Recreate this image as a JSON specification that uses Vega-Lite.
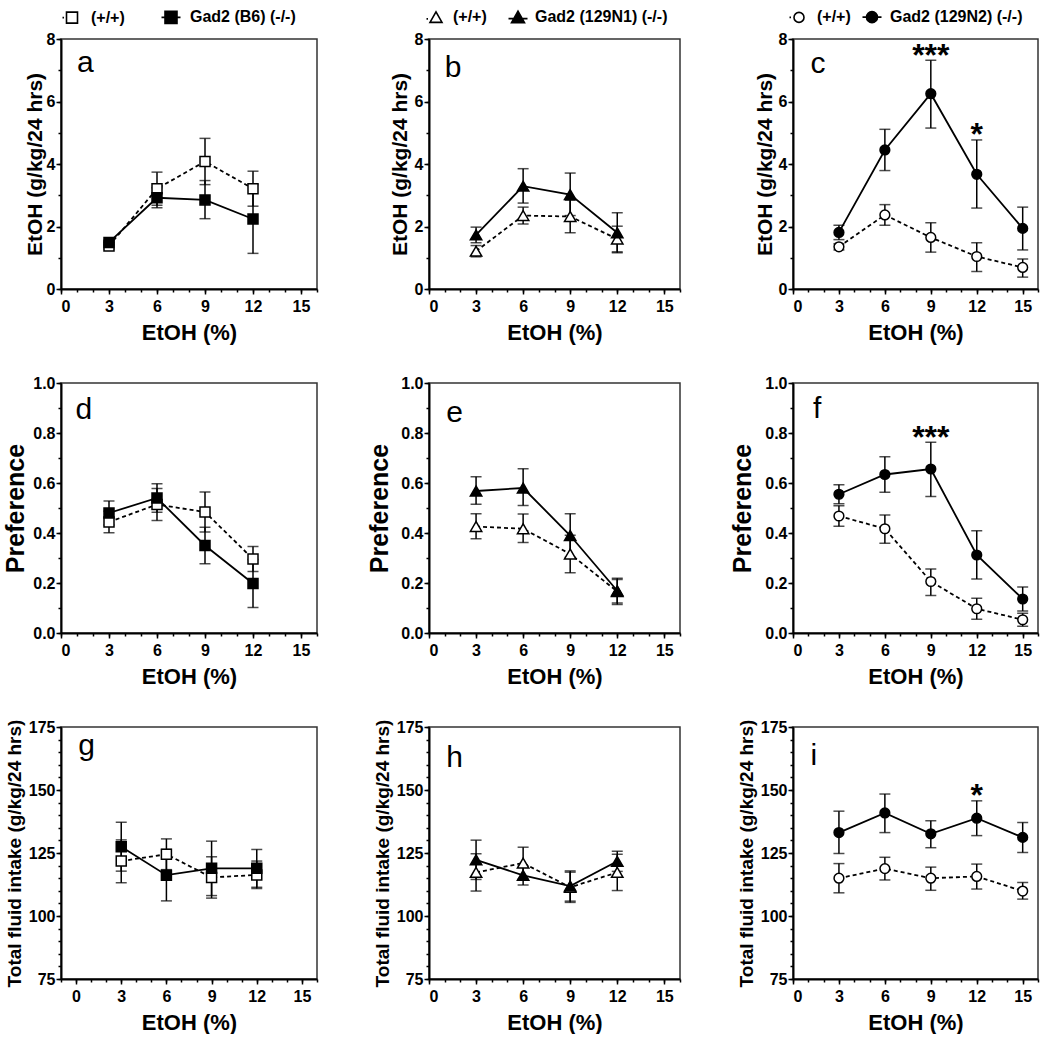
{
  "$schema": "https://vega.github.io/schema/vega-lite/v6.json",
  "background": "white",
  "padding": {"left": 3, "top": 5, "right": 0, "bottom": 0},
  "config": {
    "view": {"stroke": "#333333", "strokeWidth": 1.5},
    "font": "Liberation Sans",
    "axis": {"labelFont": "Liberation Sans", "labelFontSize": 16, "labelFontWeight": "bold", "labelColor": "black", "titleFont": "Liberation Sans", "titleFontWeight": "bold", "titleColor": "black", "domainColor": "black", "domainWidth": 2, "tickColor": "black", "tickWidth": 1.5, "tickSize": 5, "grid": false, "labelPadding": 2}
  },
  "datasets": {
    "d": [
      {"panel": "a", "conc": 3, "genotype": "(+/+)", "mean": 1.38, "lo": 1.28, "hi": 1.48},
      {"panel": "a", "conc": 6, "genotype": "(+/+)", "mean": 3.21, "lo": 2.68, "hi": 3.74},
      {"panel": "a", "conc": 9, "genotype": "(+/+)", "mean": 4.08, "lo": 3.34, "hi": 4.82},
      {"panel": "a", "conc": 12, "genotype": "(+/+)", "mean": 3.21, "lo": 2.65, "hi": 3.77},
      {"panel": "a", "conc": 3, "genotype": "Gad2 (B6) (-/-)", "mean": 1.49, "lo": 1.41, "hi": 1.57},
      {"panel": "a", "conc": 6, "genotype": "Gad2 (B6) (-/-)", "mean": 2.92, "lo": 2.6, "hi": 3.24},
      {"panel": "a", "conc": 9, "genotype": "Gad2 (B6) (-/-)", "mean": 2.85, "lo": 2.25, "hi": 3.47},
      {"panel": "a", "conc": 12, "genotype": "Gad2 (B6) (-/-)", "mean": 2.24, "lo": 1.14, "hi": 3.34},
      {"panel": "b", "conc": 3, "genotype": "(+/+)", "mean": 1.21, "lo": 1.03, "hi": 1.39},
      {"panel": "b", "conc": 6, "genotype": "(+/+)", "mean": 2.35, "lo": 2.08, "hi": 2.62},
      {"panel": "b", "conc": 9, "genotype": "(+/+)", "mean": 2.32, "lo": 1.8, "hi": 2.84},
      {"panel": "b", "conc": 12, "genotype": "(+/+)", "mean": 1.6, "lo": 1.19, "hi": 2.01},
      {"panel": "b", "conc": 3, "genotype": "Gad2 (129N1) (-/-)", "mean": 1.73, "lo": 1.48, "hi": 1.98},
      {"panel": "b", "conc": 6, "genotype": "Gad2 (129N1) (-/-)", "mean": 3.29, "lo": 2.75, "hi": 3.85},
      {"panel": "b", "conc": 9, "genotype": "Gad2 (129N1) (-/-)", "mean": 3.02, "lo": 2.35, "hi": 3.71},
      {"panel": "b", "conc": 12, "genotype": "Gad2 (129N1) (-/-)", "mean": 1.8, "lo": 1.16, "hi": 2.44},
      {"panel": "c", "conc": 3, "genotype": "(+/+)", "mean": 1.35, "lo": 1.25, "hi": 1.45},
      {"panel": "c", "conc": 6, "genotype": "(+/+)", "mean": 2.37, "lo": 2.04, "hi": 2.7},
      {"panel": "c", "conc": 9, "genotype": "(+/+)", "mean": 1.65, "lo": 1.18, "hi": 2.12},
      {"panel": "c", "conc": 12, "genotype": "(+/+)", "mean": 1.04, "lo": 0.56, "hi": 1.48},
      {"panel": "c", "conc": 15, "genotype": "(+/+)", "mean": 0.69, "lo": 0.38, "hi": 0.96},
      {"panel": "c", "conc": 3, "genotype": "Gad2 (129N2) (-/-)", "mean": 1.81, "lo": 1.58, "hi": 2.04},
      {"panel": "c", "conc": 6, "genotype": "Gad2 (129N2) (-/-)", "mean": 4.45, "lo": 3.79, "hi": 5.11},
      {"panel": "c", "conc": 9, "genotype": "Gad2 (129N2) (-/-)", "mean": 6.25, "lo": 5.15, "hi": 7.32, "sig": "***"},
      {"panel": "c", "conc": 12, "genotype": "Gad2 (129N2) (-/-)", "mean": 3.67, "lo": 2.59, "hi": 4.77, "sig": "*"},
      {"panel": "c", "conc": 15, "genotype": "Gad2 (129N2) (-/-)", "mean": 1.94, "lo": 1.25, "hi": 2.62},
      {"panel": "d", "conc": 3, "genotype": "(+/+)", "mean": 0.444, "lo": 0.401, "hi": 0.487},
      {"panel": "d", "conc": 6, "genotype": "(+/+)", "mean": 0.514, "lo": 0.45, "hi": 0.578},
      {"panel": "d", "conc": 9, "genotype": "(+/+)", "mean": 0.484, "lo": 0.404, "hi": 0.564},
      {"panel": "d", "conc": 12, "genotype": "(+/+)", "mean": 0.296, "lo": 0.246, "hi": 0.346},
      {"panel": "d", "conc": 3, "genotype": "Gad2 (B6) (-/-)", "mean": 0.48, "lo": 0.432, "hi": 0.528},
      {"panel": "d", "conc": 6, "genotype": "Gad2 (B6) (-/-)", "mean": 0.54, "lo": 0.483, "hi": 0.597},
      {"panel": "d", "conc": 9, "genotype": "Gad2 (B6) (-/-)", "mean": 0.35, "lo": 0.277, "hi": 0.423},
      {"panel": "d", "conc": 12, "genotype": "Gad2 (B6) (-/-)", "mean": 0.198, "lo": 0.102, "hi": 0.294},
      {"panel": "e", "conc": 3, "genotype": "(+/+)", "mean": 0.426, "lo": 0.377, "hi": 0.477},
      {"panel": "e", "conc": 6, "genotype": "(+/+)", "mean": 0.417, "lo": 0.362, "hi": 0.476},
      {"panel": "e", "conc": 9, "genotype": "(+/+)", "mean": 0.316, "lo": 0.241, "hi": 0.391},
      {"panel": "e", "conc": 12, "genotype": "(+/+)", "mean": 0.166, "lo": 0.114, "hi": 0.214},
      {"panel": "e", "conc": 3, "genotype": "Gad2 (129N1) (-/-)", "mean": 0.568, "lo": 0.515, "hi": 0.625},
      {"panel": "e", "conc": 6, "genotype": "Gad2 (129N1) (-/-)", "mean": 0.58, "lo": 0.51, "hi": 0.657},
      {"panel": "e", "conc": 9, "genotype": "Gad2 (129N1) (-/-)", "mean": 0.39, "lo": 0.303, "hi": 0.477},
      {"panel": "e", "conc": 12, "genotype": "Gad2 (129N1) (-/-)", "mean": 0.169, "lo": 0.12, "hi": 0.219},
      {"panel": "f", "conc": 3, "genotype": "(+/+)", "mean": 0.468, "lo": 0.427, "hi": 0.509},
      {"panel": "f", "conc": 6, "genotype": "(+/+)", "mean": 0.417, "lo": 0.359, "hi": 0.472},
      {"panel": "f", "conc": 9, "genotype": "(+/+)", "mean": 0.206, "lo": 0.15, "hi": 0.256},
      {"panel": "f", "conc": 12, "genotype": "(+/+)", "mean": 0.097, "lo": 0.055, "hi": 0.139},
      {"panel": "f", "conc": 15, "genotype": "(+/+)", "mean": 0.053, "lo": 0.027, "hi": 0.079},
      {"panel": "f", "conc": 3, "genotype": "Gad2 (129N2) (-/-)", "mean": 0.555, "lo": 0.517, "hi": 0.593},
      {"panel": "f", "conc": 6, "genotype": "Gad2 (129N2) (-/-)", "mean": 0.634, "lo": 0.563, "hi": 0.705},
      {"panel": "f", "conc": 9, "genotype": "Gad2 (129N2) (-/-)", "mean": 0.656, "lo": 0.546, "hi": 0.763, "sig": "***"},
      {"panel": "f", "conc": 12, "genotype": "Gad2 (129N2) (-/-)", "mean": 0.312, "lo": 0.216, "hi": 0.409},
      {"panel": "f", "conc": 15, "genotype": "Gad2 (129N2) (-/-)", "mean": 0.136, "lo": 0.088, "hi": 0.184},
      {"panel": "g", "conc": 3, "genotype": "(+/+)", "mean": 121.8, "lo": 113.2, "hi": 130.2},
      {"panel": "g", "conc": 6, "genotype": "(+/+)", "mean": 124.5, "lo": 118.4, "hi": 130.6},
      {"panel": "g", "conc": 9, "genotype": "(+/+)", "mean": 115.3, "lo": 107.1, "hi": 123.5},
      {"panel": "g", "conc": 12, "genotype": "(+/+)", "mean": 116.3, "lo": 110.9, "hi": 121.8},
      {"panel": "g", "conc": 3, "genotype": "Gad2 (B6) (-/-)", "mean": 127.5, "lo": 117.8, "hi": 137.2},
      {"panel": "g", "conc": 6, "genotype": "Gad2 (B6) (-/-)", "mean": 116.2, "lo": 106.0, "hi": 126.4},
      {"panel": "g", "conc": 9, "genotype": "Gad2 (B6) (-/-)", "mean": 118.9, "lo": 108.1, "hi": 129.7},
      {"panel": "g", "conc": 12, "genotype": "Gad2 (B6) (-/-)", "mean": 118.9, "lo": 111.4, "hi": 126.4},
      {"panel": "h", "conc": 3, "genotype": "(+/+)", "mean": 117.3, "lo": 109.9, "hi": 124.7},
      {"panel": "h", "conc": 6, "genotype": "(+/+)", "mean": 121.0, "lo": 114.7, "hi": 127.3},
      {"panel": "h", "conc": 9, "genotype": "(+/+)", "mean": 111.4, "lo": 105.4, "hi": 117.4},
      {"panel": "h", "conc": 12, "genotype": "(+/+)", "mean": 117.3, "lo": 110.1, "hi": 124.5},
      {"panel": "h", "conc": 3, "genotype": "Gad2 (129N1) (-/-)", "mean": 122.3, "lo": 114.5, "hi": 130.1},
      {"panel": "h", "conc": 6, "genotype": "Gad2 (129N1) (-/-)", "mean": 116.1, "lo": 112.3, "hi": 119.9},
      {"panel": "h", "conc": 9, "genotype": "Gad2 (129N1) (-/-)", "mean": 111.9, "lo": 105.9, "hi": 117.9},
      {"panel": "h", "conc": 12, "genotype": "Gad2 (129N1) (-/-)", "mean": 121.7, "lo": 117.7, "hi": 125.7},
      {"panel": "i", "conc": 3, "genotype": "(+/+)", "mean": 115.0, "lo": 109.2, "hi": 120.8},
      {"panel": "i", "conc": 6, "genotype": "(+/+)", "mean": 118.8, "lo": 114.3, "hi": 123.3},
      {"panel": "i", "conc": 9, "genotype": "(+/+)", "mean": 115.0, "lo": 110.2, "hi": 119.4},
      {"panel": "i", "conc": 12, "genotype": "(+/+)", "mean": 115.7, "lo": 110.7, "hi": 120.6},
      {"panel": "i", "conc": 15, "genotype": "(+/+)", "mean": 109.9, "lo": 106.7, "hi": 113.3},
      {"panel": "i", "conc": 3, "genotype": "Gad2 (129N2) (-/-)", "mean": 133.1, "lo": 124.8, "hi": 141.6},
      {"panel": "i", "conc": 6, "genotype": "Gad2 (129N2) (-/-)", "mean": 140.9, "lo": 133.1, "hi": 148.4},
      {"panel": "i", "conc": 9, "genotype": "Gad2 (129N2) (-/-)", "mean": 132.6, "lo": 127.1, "hi": 137.8},
      {"panel": "i", "conc": 12, "genotype": "Gad2 (129N2) (-/-)", "mean": 138.8, "lo": 131.9, "hi": 145.7, "sig": "*"},
      {"panel": "i", "conc": 15, "genotype": "Gad2 (129N2) (-/-)", "mean": 131.2, "lo": 125.2, "hi": 137.1}
    ],
    "letters": [
      {"panel": "a", "letter": "a"}, {"panel": "b", "letter": "b"}, {"panel": "c", "letter": "c"},
      {"panel": "d", "letter": "d"}, {"panel": "e", "letter": "e"}, {"panel": "f", "letter": "f"},
      {"panel": "g", "letter": "g"}, {"panel": "h", "letter": "h"}, {"panel": "i", "letter": "i"}
    ]
  },
  "columns": 3,
  "align": "each",
  "spacing": {"row": 30, "column": 48},
  "resolve": {"scale": {"fill": "independent", "shape": "independent"}, "legend": {"fill": "independent", "shape": "independent"}},
  "concat": [
    {
      "width": 256, "height": 250, "data": {"name": "d"},
      "layer": [
        {"transform": [{"filter": "datum.panel == 'a'"}],
         "mark": {"type": "errorbar", "ticks": true, "size": 11, "thickness": 1.5, "color": "black"},
         "encoding": {"x": {"field": "conc", "type": "quantitative", "scale": {"domain": [0, 16], "nice": false, "zero": false}, "axis": null},
                      "y": {"field": "lo", "type": "quantitative", "scale": {"domain": [0, 8], "nice": false, "zero": false}, "axis": null},
                      "y2": {"field": "hi"}}},
        {"transform": [{"filter": "datum.panel == 'a' && datum.genotype == '(+/+)'"}],
         "mark": {"type": "line", "color": "black", "strokeWidth": 1.8, "strokeDash": [4, 3]},
         "encoding": {"x": {"field": "conc", "type": "quantitative", "scale": {"domain": [0, 16], "nice": false, "zero": false}, "axis": {"orient": "bottom", "values": [0, 3, 6, 9, 12, 15], "title": "EtOH (%)", "titleFontSize": 22, "titlePadding": 8, "labelPadding": 4}},
                      "y": {"field": "mean", "type": "quantitative", "scale": {"domain": [0, 8], "nice": false, "zero": false}, "axis": {"orient": "left", "values": [0, 2, 4, 6, 8], "title": "EtOH (g/kg/24 hrs)", "titleFontSize": 21, "titlePadding": 1, "labelPadding": 1}}}},
        {"transform": [{"filter": "datum.panel == 'a' && datum.genotype != '(+/+)'"}],
         "mark": {"type": "line", "color": "black", "strokeWidth": 1.8},
         "encoding": {"x": {"field": "conc", "type": "quantitative", "scale": {"domain": [0, 16], "nice": false, "zero": false}, "axis": null},
                      "y": {"field": "mean", "type": "quantitative", "scale": {"domain": [0, 8], "nice": false, "zero": false}, "axis": null}}},
        {"transform": [{"filter": "datum.panel == 'a'"}],
         "mark": {"type": "point", "shape": "square", "size": 100, "filled": true, "stroke": "black", "strokeWidth": 1.5, "opacity": 1},
         "encoding": {"x": {"field": "conc", "type": "quantitative", "scale": {"domain": [0, 16], "nice": false, "zero": false}, "axis": {"orient": "bottom", "values": [0,1,2,3,4,5,6,7,8,9,10,11,12,13,14,15,16], "labels": false, "domain": false, "title": null, "tickSize": 3}},
                      "y": {"field": "mean", "type": "quantitative", "scale": {"domain": [0, 8], "nice": false, "zero": false}, "axis": {"orient": "left", "values": [0,1,2,3,4,5,6,7,8], "labels": false, "domain": false, "title": null, "tickSize": 3}},
                      "fill": {"field": "genotype", "type": "nominal", "scale": {"domain": ["(+/+)", "Gad2 (B6) (-/-)"], "range": ["white", "black"]},
                               "legend": {"orient": "none", "legendX": 0, "legendY": -33, "direction": "horizontal", "title": null, "padding": 0, "labelFont": "Liberation Sans", "labelFontSize": 16, "labelFontWeight": "bold", "labelColor": "black", "labelOffset": 8, "columnPadding": 33, "symbolSize": 400, "symbolStrokeColor": "black", "symbolStrokeWidth": 1.6}}}},
        {"transform": [{"filter": "false"}],
         "mark": {"type": "point", "filled": true, "stroke": "black", "strokeWidth": 1.6, "opacity": 1},
         "encoding": {"x": {"field": "conc", "type": "quantitative", "scale": {"domain": [0, 16], "nice": false, "zero": false}, "axis": null},
                      "y": {"field": "mean", "type": "quantitative", "scale": {"domain": [0, 8], "nice": false, "zero": false}, "axis": null},
                      "shape": {"field": "genotype", "type": "nominal", "scale": {"domain": ["(+/+)", "Gad2 (B6) (-/-)"], "range": ["M-0.95,0H-0.8M-0.55,-0.55H0.55V0.55H-0.55Z", "M-0.95,0H0.95M-0.6,-0.6H0.6V0.6H-0.6Z"]},
                                "legend": {"orient": "none", "legendX": 0, "legendY": -33, "direction": "horizontal", "title": null, "padding": 0, "labelFont": "Liberation Sans", "labelFontSize": 16, "labelFontWeight": "bold", "labelColor": "black", "labelOffset": 8, "columnPadding": 33, "symbolSize": 400, "symbolStrokeColor": "black", "symbolStrokeWidth": 1.6}},
                      "fill": {"field": "genotype", "type": "nominal", "scale": {"domain": ["(+/+)", "Gad2 (B6) (-/-)"], "range": ["white", "black"]},
                               "legend": {"orient": "none", "legendX": 0, "legendY": -33, "direction": "horizontal", "title": null, "padding": 0, "labelFont": "Liberation Sans", "labelFontSize": 16, "labelFontWeight": "bold", "labelColor": "black", "labelOffset": 8, "columnPadding": 33, "symbolSize": 400, "symbolStrokeColor": "black", "symbolStrokeWidth": 1.6}}}},
        {"data": {"name": "letters"}, "transform": [{"filter": "datum.panel == 'a'"}],
         "mark": {"type": "text", "font": "Liberation Sans", "fontSize": 30, "align": "left", "baseline": "alphabetic", "color": "black"},
         "encoding": {"x": {"datum": 1.0, "type": "quantitative", "scale": {"domain": [0, 16], "nice": false, "zero": false}, "axis": null},
                      "y": {"datum": 6.95, "type": "quantitative", "scale": {"domain": [0, 8], "nice": false, "zero": false}, "axis": null},
                      "text": {"field": "letter"}}}
      ],
      "resolve": {"axis": {"x": "independent", "y": "independent"}}
    },
    {
      "width": 251, "height": 250, "data": {"name": "d"},
      "layer": [
        {"transform": [{"filter": "datum.panel == 'b'"}],
         "mark": {"type": "errorbar", "ticks": true, "size": 11, "thickness": 1.5, "color": "black"},
         "encoding": {"x": {"field": "conc", "type": "quantitative", "scale": {"domain": [0, 16], "nice": false, "zero": false}, "axis": null},
                      "y": {"field": "lo", "type": "quantitative", "scale": {"domain": [0, 8], "nice": false, "zero": false}, "axis": null},
                      "y2": {"field": "hi"}}},
        {"transform": [{"filter": "datum.panel == 'b' && datum.genotype == '(+/+)'"}],
         "mark": {"type": "line", "color": "black", "strokeWidth": 1.8, "strokeDash": [4, 3]},
         "encoding": {"x": {"field": "conc", "type": "quantitative", "scale": {"domain": [0, 16], "nice": false, "zero": false}, "axis": {"orient": "bottom", "values": [0, 3, 6, 9, 12, 15], "title": "EtOH (%)", "titleFontSize": 22, "titlePadding": 8, "labelPadding": 4}},
                      "y": {"field": "mean", "type": "quantitative", "scale": {"domain": [0, 8], "nice": false, "zero": false}, "axis": {"orient": "left", "values": [0, 2, 4, 6, 8], "title": "EtOH (g/kg/24 hrs)", "titleFontSize": 21, "titlePadding": 4, "labelPadding": 1}}}},
        {"transform": [{"filter": "datum.panel == 'b' && datum.genotype != '(+/+)'"}],
         "mark": {"type": "line", "color": "black", "strokeWidth": 1.8},
         "encoding": {"x": {"field": "conc", "type": "quantitative", "scale": {"domain": [0, 16], "nice": false, "zero": false}, "axis": null},
                      "y": {"field": "mean", "type": "quantitative", "scale": {"domain": [0, 8], "nice": false, "zero": false}, "axis": null}}},
        {"transform": [{"filter": "datum.panel == 'b'"}],
         "mark": {"type": "point", "shape": "triangle-up", "size": 130, "filled": true, "stroke": "black", "strokeWidth": 1.5, "opacity": 1},
         "encoding": {"x": {"field": "conc", "type": "quantitative", "scale": {"domain": [0, 16], "nice": false, "zero": false}, "axis": {"orient": "bottom", "values": [0,1,2,3,4,5,6,7,8,9,10,11,12,13,14,15,16], "labels": false, "domain": false, "title": null, "tickSize": 3}},
                      "y": {"field": "mean", "type": "quantitative", "scale": {"domain": [0, 8], "nice": false, "zero": false}, "axis": {"orient": "left", "values": [0,1,2,3,4,5,6,7,8], "labels": false, "domain": false, "title": null, "tickSize": 3}},
                      "fill": {"field": "genotype", "type": "nominal", "scale": {"domain": ["(+/+)", "Gad2 (129N1) (-/-)"], "range": ["white", "black"]},
                               "legend": {"orient": "none", "legendX": -4, "legendY": -33, "direction": "horizontal", "title": null, "padding": 0, "labelFont": "Liberation Sans", "labelFontSize": 16, "labelFontWeight": "bold", "labelColor": "black", "labelOffset": 6, "columnPadding": 18, "symbolSize": 400, "symbolStrokeColor": "black", "symbolStrokeWidth": 1.6}}}},
        {"transform": [{"filter": "false"}],
         "mark": {"type": "point", "filled": true, "stroke": "black", "strokeWidth": 1.6, "opacity": 1},
         "encoding": {"x": {"field": "conc", "type": "quantitative", "scale": {"domain": [0, 16], "nice": false, "zero": false}, "axis": null},
                      "y": {"field": "mean", "type": "quantitative", "scale": {"domain": [0, 8], "nice": false, "zero": false}, "axis": null},
                      "shape": {"field": "genotype", "type": "nominal", "scale": {"domain": ["(+/+)", "Gad2 (129N1) (-/-)"], "range": ["M-0.95,0.15H-0.8M0,-0.55L0.6,0.5H-0.6Z", "M-0.95,0.15H0.95M0,-0.6L0.65,0.55H-0.65Z"]},
                                "legend": {"orient": "none", "legendX": -4, "legendY": -33, "direction": "horizontal", "title": null, "padding": 0, "labelFont": "Liberation Sans", "labelFontSize": 16, "labelFontWeight": "bold", "labelColor": "black", "labelOffset": 6, "columnPadding": 18, "symbolSize": 400, "symbolStrokeColor": "black", "symbolStrokeWidth": 1.6}},
                      "fill": {"field": "genotype", "type": "nominal", "scale": {"domain": ["(+/+)", "Gad2 (129N1) (-/-)"], "range": ["white", "black"]},
                               "legend": {"orient": "none", "legendX": -4, "legendY": -33, "direction": "horizontal", "title": null, "padding": 0, "labelFont": "Liberation Sans", "labelFontSize": 16, "labelFontWeight": "bold", "labelColor": "black", "labelOffset": 6, "columnPadding": 18, "symbolSize": 400, "symbolStrokeColor": "black", "symbolStrokeWidth": 1.6}}}},
        {"data": {"name": "letters"}, "transform": [{"filter": "datum.panel == 'b'"}],
         "mark": {"type": "text", "font": "Liberation Sans", "fontSize": 30, "align": "left", "baseline": "alphabetic", "color": "black"},
         "encoding": {"x": {"datum": 1.0, "type": "quantitative", "scale": {"domain": [0, 16], "nice": false, "zero": false}, "axis": null},
                      "y": {"datum": 6.8, "type": "quantitative", "scale": {"domain": [0, 8], "nice": false, "zero": false}, "axis": null},
                      "text": {"field": "letter"}}}
      ],
      "resolve": {"axis": {"x": "independent", "y": "independent"}}
    },
    {
      "width": 245, "height": 250, "data": {"name": "d"},
      "layer": [
        {"transform": [{"filter": "datum.panel == 'c'"}],
         "mark": {"type": "errorbar", "ticks": true, "size": 11, "thickness": 1.5, "color": "black"},
         "encoding": {"x": {"field": "conc", "type": "quantitative", "scale": {"domain": [0, 16], "nice": false, "zero": false}, "axis": null},
                      "y": {"field": "lo", "type": "quantitative", "scale": {"domain": [0, 8], "nice": false, "zero": false}, "axis": null},
                      "y2": {"field": "hi"}}},
        {"transform": [{"filter": "datum.panel == 'c' && datum.genotype == '(+/+)'"}],
         "mark": {"type": "line", "color": "black", "strokeWidth": 1.8, "strokeDash": [4, 3]},
         "encoding": {"x": {"field": "conc", "type": "quantitative", "scale": {"domain": [0, 16], "nice": false, "zero": false}, "axis": {"orient": "bottom", "values": [0, 3, 6, 9, 12, 15], "title": "EtOH (%)", "titleFontSize": 22, "titlePadding": 8, "labelPadding": 4}},
                      "y": {"field": "mean", "type": "quantitative", "scale": {"domain": [0, 8], "nice": false, "zero": false}, "axis": {"orient": "left", "values": [0, 2, 4, 6, 8], "title": "EtOH (g/kg/24 hrs)", "titleFontSize": 21, "titlePadding": 3, "labelPadding": 1}}}},
        {"transform": [{"filter": "datum.panel == 'c' && datum.genotype != '(+/+)'"}],
         "mark": {"type": "line", "color": "black", "strokeWidth": 1.8},
         "encoding": {"x": {"field": "conc", "type": "quantitative", "scale": {"domain": [0, 16], "nice": false, "zero": false}, "axis": null},
                      "y": {"field": "mean", "type": "quantitative", "scale": {"domain": [0, 8], "nice": false, "zero": false}, "axis": null}}},
        {"transform": [{"filter": "datum.panel == 'c'"}],
         "mark": {"type": "point", "shape": "circle", "size": 95, "filled": true, "stroke": "black", "strokeWidth": 1.5, "opacity": 1},
         "encoding": {"x": {"field": "conc", "type": "quantitative", "scale": {"domain": [0, 16], "nice": false, "zero": false}, "axis": {"orient": "bottom", "values": [0,1,2,3,4,5,6,7,8,9,10,11,12,13,14,15,16], "labels": false, "domain": false, "title": null, "tickSize": 3}},
                      "y": {"field": "mean", "type": "quantitative", "scale": {"domain": [0, 8], "nice": false, "zero": false}, "axis": {"orient": "left", "values": [0,1,2,3,4,5,6,7,8], "labels": false, "domain": false, "title": null, "tickSize": 3}},
                      "fill": {"field": "genotype", "type": "nominal", "scale": {"domain": ["(+/+)", "Gad2 (129N2) (-/-)"], "range": ["white", "black"]},
                               "legend": {"orient": "none", "legendX": -5, "legendY": -33, "direction": "horizontal", "title": null, "padding": 0, "labelFont": "Liberation Sans", "labelFontSize": 16, "labelFontWeight": "bold", "labelColor": "black", "labelOffset": 7, "columnPadding": 8, "symbolSize": 400, "symbolStrokeColor": "black", "symbolStrokeWidth": 1.6}}}},
        {"transform": [{"filter": "false"}],
         "mark": {"type": "point", "filled": true, "stroke": "black", "strokeWidth": 1.6, "opacity": 1},
         "encoding": {"x": {"field": "conc", "type": "quantitative", "scale": {"domain": [0, 16], "nice": false, "zero": false}, "axis": null},
                      "y": {"field": "mean", "type": "quantitative", "scale": {"domain": [0, 8], "nice": false, "zero": false}, "axis": null},
                      "shape": {"field": "genotype", "type": "nominal", "scale": {"domain": ["(+/+)", "Gad2 (129N2) (-/-)"], "range": ["M-0.95,0H-0.8M-0.5,0A0.5,0.5,0,1,0,0.5,0A0.5,0.5,0,1,0,-0.5,0Z", "M-0.95,0H0.95M-0.55,0A0.55,0.55,0,1,0,0.55,0A0.55,0.55,0,1,0,-0.55,0Z"]},
                                "legend": {"orient": "none", "legendX": -5, "legendY": -33, "direction": "horizontal", "title": null, "padding": 0, "labelFont": "Liberation Sans", "labelFontSize": 16, "labelFontWeight": "bold", "labelColor": "black", "labelOffset": 7, "columnPadding": 8, "symbolSize": 400, "symbolStrokeColor": "black", "symbolStrokeWidth": 1.6}},
                      "fill": {"field": "genotype", "type": "nominal", "scale": {"domain": ["(+/+)", "Gad2 (129N2) (-/-)"], "range": ["white", "black"]},
                               "legend": {"orient": "none", "legendX": -5, "legendY": -33, "direction": "horizontal", "title": null, "padding": 0, "labelFont": "Liberation Sans", "labelFontSize": 16, "labelFontWeight": "bold", "labelColor": "black", "labelOffset": 7, "columnPadding": 8, "symbolSize": 400, "symbolStrokeColor": "black", "symbolStrokeWidth": 1.6}}}},
        {"transform": [{"filter": "datum.panel == 'c' && datum.sig != null"}],
         "mark": {"type": "text", "font": "Liberation Sans", "fontSize": 32, "fontWeight": "bold", "baseline": "alphabetic", "dy": 5.5, "color": "black"},
         "encoding": {"x": {"field": "conc", "type": "quantitative", "scale": {"domain": [0, 16], "nice": false, "zero": false}, "axis": null},
                      "y": {"field": "hi", "type": "quantitative", "scale": {"domain": [0, 8], "nice": false, "zero": false}, "axis": null},
                      "text": {"field": "sig"}}},
        {"data": {"name": "letters"}, "transform": [{"filter": "datum.panel == 'c'"}],
         "mark": {"type": "text", "font": "Liberation Sans", "fontSize": 30, "align": "left", "baseline": "alphabetic", "color": "black"},
         "encoding": {"x": {"datum": 1.15, "type": "quantitative", "scale": {"domain": [0, 16], "nice": false, "zero": false}, "axis": null},
                      "y": {"datum": 6.9, "type": "quantitative", "scale": {"domain": [0, 8], "nice": false, "zero": false}, "axis": null},
                      "text": {"field": "letter"}}}
      ],
      "resolve": {"axis": {"x": "independent", "y": "independent"}}
    },
    {
      "width": 256, "height": 250, "data": {"name": "d"},
      "layer": [
        {"transform": [{"filter": "datum.panel == 'd'"}],
         "mark": {"type": "errorbar", "ticks": true, "size": 11, "thickness": 1.5, "color": "black"},
         "encoding": {"x": {"field": "conc", "type": "quantitative", "scale": {"domain": [0, 16], "nice": false, "zero": false}, "axis": null},
                      "y": {"field": "lo", "type": "quantitative", "scale": {"domain": [0, 1], "nice": false, "zero": false}, "axis": null},
                      "y2": {"field": "hi"}}},
        {"transform": [{"filter": "datum.panel == 'd' && datum.genotype == '(+/+)'"}],
         "mark": {"type": "line", "color": "black", "strokeWidth": 1.8, "strokeDash": [4, 3]},
         "encoding": {"x": {"field": "conc", "type": "quantitative", "scale": {"domain": [0, 16], "nice": false, "zero": false}, "axis": {"orient": "bottom", "values": [0, 3, 6, 9, 12, 15], "title": "EtOH (%)", "titleFontSize": 22, "titlePadding": 8, "labelPadding": 4}},
                      "y": {"field": "mean", "type": "quantitative", "scale": {"domain": [0, 1], "nice": false, "zero": false}, "axis": {"orient": "left", "values": [0, 0.2, 0.4, 0.6, 0.8, 1.0], "format": ".1f", "title": "Preference", "titleFontSize": 25, "titlePadding": 4, "labelPadding": 1}}}},
        {"transform": [{"filter": "datum.panel == 'd' && datum.genotype != '(+/+)'"}],
         "mark": {"type": "line", "color": "black", "strokeWidth": 1.8},
         "encoding": {"x": {"field": "conc", "type": "quantitative", "scale": {"domain": [0, 16], "nice": false, "zero": false}, "axis": null},
                      "y": {"field": "mean", "type": "quantitative", "scale": {"domain": [0, 1], "nice": false, "zero": false}, "axis": null}}},
        {"transform": [{"filter": "datum.panel == 'd'"}],
         "mark": {"type": "point", "shape": "square", "size": 100, "filled": true, "stroke": "black", "strokeWidth": 1.5, "opacity": 1},
         "encoding": {"x": {"field": "conc", "type": "quantitative", "scale": {"domain": [0, 16], "nice": false, "zero": false}, "axis": {"orient": "bottom", "values": [0,1,2,3,4,5,6,7,8,9,10,11,12,13,14,15,16], "labels": false, "domain": false, "title": null, "tickSize": 3}},
                      "y": {"field": "mean", "type": "quantitative", "scale": {"domain": [0, 1], "nice": false, "zero": false}, "axis": {"orient": "left", "values": [0,0.1,0.2,0.3,0.4,0.5,0.6,0.7,0.8,0.9,1.0], "labels": false, "domain": false, "title": null, "tickSize": 3}},
                      "fill": {"field": "genotype", "type": "nominal", "scale": {"domain": ["(+/+)", "Gad2 (B6) (-/-)"], "range": ["white", "black"]}, "legend": null}}},
        {"data": {"name": "letters"}, "transform": [{"filter": "datum.panel == 'd'"}],
         "mark": {"type": "text", "font": "Liberation Sans", "fontSize": 30, "align": "left", "baseline": "alphabetic", "color": "black"},
         "encoding": {"x": {"datum": 0.9, "type": "quantitative", "scale": {"domain": [0, 16], "nice": false, "zero": false}, "axis": null},
                      "y": {"datum": 0.855, "type": "quantitative", "scale": {"domain": [0, 1], "nice": false, "zero": false}, "axis": null},
                      "text": {"field": "letter"}}}
      ],
      "resolve": {"axis": {"x": "independent", "y": "independent"}}
    },
    {
      "width": 251, "height": 250, "data": {"name": "d"},
      "layer": [
        {"transform": [{"filter": "datum.panel == 'e'"}],
         "mark": {"type": "errorbar", "ticks": true, "size": 11, "thickness": 1.5, "color": "black"},
         "encoding": {"x": {"field": "conc", "type": "quantitative", "scale": {"domain": [0, 16], "nice": false, "zero": false}, "axis": null},
                      "y": {"field": "lo", "type": "quantitative", "scale": {"domain": [0, 1], "nice": false, "zero": false}, "axis": null},
                      "y2": {"field": "hi"}}},
        {"transform": [{"filter": "datum.panel == 'e' && datum.genotype == '(+/+)'"}],
         "mark": {"type": "line", "color": "black", "strokeWidth": 1.8, "strokeDash": [4, 3]},
         "encoding": {"x": {"field": "conc", "type": "quantitative", "scale": {"domain": [0, 16], "nice": false, "zero": false}, "axis": {"orient": "bottom", "values": [0, 3, 6, 9, 12, 15], "title": "EtOH (%)", "titleFontSize": 22, "titlePadding": 8, "labelPadding": 4}},
                      "y": {"field": "mean", "type": "quantitative", "scale": {"domain": [0, 1], "nice": false, "zero": false}, "axis": {"orient": "left", "values": [0, 0.2, 0.4, 0.6, 0.8, 1.0], "format": ".1f", "title": "Preference", "titleFontSize": 25, "titlePadding": 8, "labelPadding": 1}}}},
        {"transform": [{"filter": "datum.panel == 'e' && datum.genotype != '(+/+)'"}],
         "mark": {"type": "line", "color": "black", "strokeWidth": 1.8},
         "encoding": {"x": {"field": "conc", "type": "quantitative", "scale": {"domain": [0, 16], "nice": false, "zero": false}, "axis": null},
                      "y": {"field": "mean", "type": "quantitative", "scale": {"domain": [0, 1], "nice": false, "zero": false}, "axis": null}}},
        {"transform": [{"filter": "datum.panel == 'e'"}],
         "mark": {"type": "point", "shape": "triangle-up", "size": 130, "filled": true, "stroke": "black", "strokeWidth": 1.5, "opacity": 1},
         "encoding": {"x": {"field": "conc", "type": "quantitative", "scale": {"domain": [0, 16], "nice": false, "zero": false}, "axis": {"orient": "bottom", "values": [0,1,2,3,4,5,6,7,8,9,10,11,12,13,14,15,16], "labels": false, "domain": false, "title": null, "tickSize": 3}},
                      "y": {"field": "mean", "type": "quantitative", "scale": {"domain": [0, 1], "nice": false, "zero": false}, "axis": {"orient": "left", "values": [0,0.1,0.2,0.3,0.4,0.5,0.6,0.7,0.8,0.9,1.0], "labels": false, "domain": false, "title": null, "tickSize": 3}},
                      "fill": {"field": "genotype", "type": "nominal", "scale": {"domain": ["(+/+)", "Gad2 (129N1) (-/-)"], "range": ["white", "black"]}, "legend": null}}},
        {"data": {"name": "letters"}, "transform": [{"filter": "datum.panel == 'e'"}],
         "mark": {"type": "text", "font": "Liberation Sans", "fontSize": 30, "align": "left", "baseline": "alphabetic", "color": "black"},
         "encoding": {"x": {"datum": 1.1, "type": "quantitative", "scale": {"domain": [0, 16], "nice": false, "zero": false}, "axis": null},
                      "y": {"datum": 0.845, "type": "quantitative", "scale": {"domain": [0, 1], "nice": false, "zero": false}, "axis": null},
                      "text": {"field": "letter"}}}
      ],
      "resolve": {"axis": {"x": "independent", "y": "independent"}}
    },
    {
      "width": 245, "height": 250, "data": {"name": "d"},
      "layer": [
        {"transform": [{"filter": "datum.panel == 'f'"}],
         "mark": {"type": "errorbar", "ticks": true, "size": 11, "thickness": 1.5, "color": "black"},
         "encoding": {"x": {"field": "conc", "type": "quantitative", "scale": {"domain": [0, 16], "nice": false, "zero": false}, "axis": null},
                      "y": {"field": "lo", "type": "quantitative", "scale": {"domain": [0, 1], "nice": false, "zero": false}, "axis": null},
                      "y2": {"field": "hi"}}},
        {"transform": [{"filter": "datum.panel == 'f' && datum.genotype == '(+/+)'"}],
         "mark": {"type": "line", "color": "black", "strokeWidth": 1.8, "strokeDash": [4, 3]},
         "encoding": {"x": {"field": "conc", "type": "quantitative", "scale": {"domain": [0, 16], "nice": false, "zero": false}, "axis": {"orient": "bottom", "values": [0, 3, 6, 9, 12, 15], "title": "EtOH (%)", "titleFontSize": 22, "titlePadding": 8, "labelPadding": 4}},
                      "y": {"field": "mean", "type": "quantitative", "scale": {"domain": [0, 1], "nice": false, "zero": false}, "axis": {"orient": "left", "values": [0, 0.2, 0.4, 0.6, 0.8, 1.0], "format": ".1f", "title": "Preference", "titleFontSize": 25, "titlePadding": 9, "labelPadding": 1}}}},
        {"transform": [{"filter": "datum.panel == 'f' && datum.genotype != '(+/+)'"}],
         "mark": {"type": "line", "color": "black", "strokeWidth": 1.8},
         "encoding": {"x": {"field": "conc", "type": "quantitative", "scale": {"domain": [0, 16], "nice": false, "zero": false}, "axis": null},
                      "y": {"field": "mean", "type": "quantitative", "scale": {"domain": [0, 1], "nice": false, "zero": false}, "axis": null}}},
        {"transform": [{"filter": "datum.panel == 'f'"}],
         "mark": {"type": "point", "shape": "circle", "size": 95, "filled": true, "stroke": "black", "strokeWidth": 1.5, "opacity": 1},
         "encoding": {"x": {"field": "conc", "type": "quantitative", "scale": {"domain": [0, 16], "nice": false, "zero": false}, "axis": {"orient": "bottom", "values": [0,1,2,3,4,5,6,7,8,9,10,11,12,13,14,15,16], "labels": false, "domain": false, "title": null, "tickSize": 3}},
                      "y": {"field": "mean", "type": "quantitative", "scale": {"domain": [0, 1], "nice": false, "zero": false}, "axis": {"orient": "left", "values": [0,0.1,0.2,0.3,0.4,0.5,0.6,0.7,0.8,0.9,1.0], "labels": false, "domain": false, "title": null, "tickSize": 3}},
                      "fill": {"field": "genotype", "type": "nominal", "scale": {"domain": ["(+/+)", "Gad2 (129N2) (-/-)"], "range": ["white", "black"]}, "legend": null}}},
        {"transform": [{"filter": "datum.panel == 'f' && datum.sig != null"}],
         "mark": {"type": "text", "font": "Liberation Sans", "fontSize": 32, "fontWeight": "bold", "baseline": "alphabetic", "dy": 5.5, "color": "black"},
         "encoding": {"x": {"field": "conc", "type": "quantitative", "scale": {"domain": [0, 16], "nice": false, "zero": false}, "axis": null},
                      "y": {"field": "hi", "type": "quantitative", "scale": {"domain": [0, 1], "nice": false, "zero": false}, "axis": null},
                      "text": {"field": "sig"}}},
        {"data": {"name": "letters"}, "transform": [{"filter": "datum.panel == 'f'"}],
         "mark": {"type": "text", "font": "Liberation Sans", "fontSize": 30, "align": "left", "baseline": "alphabetic", "color": "black"},
         "encoding": {"x": {"datum": 1.3, "type": "quantitative", "scale": {"domain": [0, 16], "nice": false, "zero": false}, "axis": null},
                      "y": {"datum": 0.86, "type": "quantitative", "scale": {"domain": [0, 1], "nice": false, "zero": false}, "axis": null},
                      "text": {"field": "letter"}}}
      ],
      "resolve": {"axis": {"x": "independent", "y": "independent"}}
    },
    {
      "width": 256, "height": 252, "data": {"name": "d"},
      "layer": [
        {"transform": [{"filter": "datum.panel == 'g'"}],
         "mark": {"type": "errorbar", "ticks": true, "size": 11, "thickness": 1.5, "color": "black"},
         "encoding": {"x": {"field": "conc", "type": "quantitative", "scale": {"domain": [-1, 16], "nice": false, "zero": false}, "axis": null},
                      "y": {"field": "lo", "type": "quantitative", "scale": {"domain": [75, 175], "nice": false, "zero": false}, "axis": null},
                      "y2": {"field": "hi"}}},
        {"transform": [{"filter": "datum.panel == 'g' && datum.genotype == '(+/+)'"}],
         "mark": {"type": "line", "color": "black", "strokeWidth": 1.8, "strokeDash": [4, 3]},
         "encoding": {"x": {"field": "conc", "type": "quantitative", "scale": {"domain": [-1, 16], "nice": false, "zero": false}, "axis": {"orient": "bottom", "values": [0, 3, 6, 9, 12, 15], "title": "EtOH (%)", "titleFontSize": 22, "titlePadding": 8, "labelPadding": 4}},
                      "y": {"field": "mean", "type": "quantitative", "scale": {"domain": [75, 175], "nice": false, "zero": false}, "axis": {"orient": "left", "values": [75, 100, 125, 150, 175], "title": "Total fluid intake (g/kg/24 hrs)", "titleFontSize": 19, "titlePadding": 4, "labelPadding": 1}}}},
        {"transform": [{"filter": "datum.panel == 'g' && datum.genotype != '(+/+)'"}],
         "mark": {"type": "line", "color": "black", "strokeWidth": 1.8},
         "encoding": {"x": {"field": "conc", "type": "quantitative", "scale": {"domain": [-1, 16], "nice": false, "zero": false}, "axis": null},
                      "y": {"field": "mean", "type": "quantitative", "scale": {"domain": [75, 175], "nice": false, "zero": false}, "axis": null}}},
        {"transform": [{"filter": "datum.panel == 'g'"}],
         "mark": {"type": "point", "shape": "square", "size": 100, "filled": true, "stroke": "black", "strokeWidth": 1.5, "opacity": 1},
         "encoding": {"x": {"field": "conc", "type": "quantitative", "scale": {"domain": [-1, 16], "nice": false, "zero": false}, "axis": {"orient": "bottom", "values": [-1,0,1,2,3,4,5,6,7,8,9,10,11,12,13,14,15,16], "labels": false, "domain": false, "title": null, "tickSize": 3}},
                      "y": {"field": "mean", "type": "quantitative", "scale": {"domain": [75, 175], "nice": false, "zero": false}, "axis": {"orient": "left", "values": [75,80,85,90,95,100,105,110,115,120,125,130,135,140,145,150,155,160,165,170,175], "labels": false, "domain": false, "title": null, "tickSize": 3}},
                      "fill": {"field": "genotype", "type": "nominal", "scale": {"domain": ["(+/+)", "Gad2 (B6) (-/-)"], "range": ["white", "black"]}, "legend": null}}},
        {"data": {"name": "letters"}, "transform": [{"filter": "datum.panel == 'g'"}],
         "mark": {"type": "text", "font": "Liberation Sans", "fontSize": 30, "align": "left", "baseline": "alphabetic", "color": "black"},
         "encoding": {"x": {"datum": 0.15, "type": "quantitative", "scale": {"domain": [-1, 16], "nice": false, "zero": false}, "axis": null},
                      "y": {"datum": 164, "type": "quantitative", "scale": {"domain": [75, 175], "nice": false, "zero": false}, "axis": null},
                      "text": {"field": "letter"}}}
      ],
      "resolve": {"axis": {"x": "independent", "y": "independent"}}
    },
    {
      "width": 251, "height": 252, "data": {"name": "d"},
      "layer": [
        {"transform": [{"filter": "datum.panel == 'h'"}],
         "mark": {"type": "errorbar", "ticks": true, "size": 11, "thickness": 1.5, "color": "black"},
         "encoding": {"x": {"field": "conc", "type": "quantitative", "scale": {"domain": [0, 16], "nice": false, "zero": false}, "axis": null},
                      "y": {"field": "lo", "type": "quantitative", "scale": {"domain": [75, 175], "nice": false, "zero": false}, "axis": null},
                      "y2": {"field": "hi"}}},
        {"transform": [{"filter": "datum.panel == 'h' && datum.genotype == '(+/+)'"}],
         "mark": {"type": "line", "color": "black", "strokeWidth": 1.8, "strokeDash": [4, 3]},
         "encoding": {"x": {"field": "conc", "type": "quantitative", "scale": {"domain": [0, 16], "nice": false, "zero": false}, "axis": {"orient": "bottom", "values": [0, 3, 6, 9, 12, 15], "title": "EtOH (%)", "titleFontSize": 22, "titlePadding": 8, "labelPadding": 4}},
                      "y": {"field": "mean", "type": "quantitative", "scale": {"domain": [75, 175], "nice": false, "zero": false}, "axis": {"orient": "left", "values": [75, 100, 125, 150, 175], "title": "Total fluid intake (g/kg/24 hrs)", "titleFontSize": 19, "titlePadding": 4, "labelPadding": 1}}}},
        {"transform": [{"filter": "datum.panel == 'h' && datum.genotype != '(+/+)'"}],
         "mark": {"type": "line", "color": "black", "strokeWidth": 1.8},
         "encoding": {"x": {"field": "conc", "type": "quantitative", "scale": {"domain": [0, 16], "nice": false, "zero": false}, "axis": null},
                      "y": {"field": "mean", "type": "quantitative", "scale": {"domain": [75, 175], "nice": false, "zero": false}, "axis": null}}},
        {"transform": [{"filter": "datum.panel == 'h'"}],
         "mark": {"type": "point", "shape": "triangle-up", "size": 130, "filled": true, "stroke": "black", "strokeWidth": 1.5, "opacity": 1},
         "encoding": {"x": {"field": "conc", "type": "quantitative", "scale": {"domain": [0, 16], "nice": false, "zero": false}, "axis": {"orient": "bottom", "values": [0,1,2,3,4,5,6,7,8,9,10,11,12,13,14,15,16], "labels": false, "domain": false, "title": null, "tickSize": 3}},
                      "y": {"field": "mean", "type": "quantitative", "scale": {"domain": [75, 175], "nice": false, "zero": false}, "axis": {"orient": "left", "values": [75,80,85,90,95,100,105,110,115,120,125,130,135,140,145,150,155,160,165,170,175], "labels": false, "domain": false, "title": null, "tickSize": 3}},
                      "fill": {"field": "genotype", "type": "nominal", "scale": {"domain": ["(+/+)", "Gad2 (129N1) (-/-)"], "range": ["white", "black"]}, "legend": null}}},
        {"data": {"name": "letters"}, "transform": [{"filter": "datum.panel == 'h'"}],
         "mark": {"type": "text", "font": "Liberation Sans", "fontSize": 30, "align": "left", "baseline": "alphabetic", "color": "black"},
         "encoding": {"x": {"datum": 1.1, "type": "quantitative", "scale": {"domain": [0, 16], "nice": false, "zero": false}, "axis": null},
                      "y": {"datum": 159, "type": "quantitative", "scale": {"domain": [75, 175], "nice": false, "zero": false}, "axis": null},
                      "text": {"field": "letter"}}}
      ],
      "resolve": {"axis": {"x": "independent", "y": "independent"}}
    },
    {
      "width": 245, "height": 252, "data": {"name": "d"},
      "layer": [
        {"transform": [{"filter": "datum.panel == 'i'"}],
         "mark": {"type": "errorbar", "ticks": true, "size": 11, "thickness": 1.5, "color": "black"},
         "encoding": {"x": {"field": "conc", "type": "quantitative", "scale": {"domain": [0, 16], "nice": false, "zero": false}, "axis": null},
                      "y": {"field": "lo", "type": "quantitative", "scale": {"domain": [75, 175], "nice": false, "zero": false}, "axis": null},
                      "y2": {"field": "hi"}}},
        {"transform": [{"filter": "datum.panel == 'i' && datum.genotype == '(+/+)'"}],
         "mark": {"type": "line", "color": "black", "strokeWidth": 1.8, "strokeDash": [4, 3]},
         "encoding": {"x": {"field": "conc", "type": "quantitative", "scale": {"domain": [0, 16], "nice": false, "zero": false}, "axis": {"orient": "bottom", "values": [0, 3, 6, 9, 12, 15], "title": "EtOH (%)", "titleFontSize": 22, "titlePadding": 8, "labelPadding": 4}},
                      "y": {"field": "mean", "type": "quantitative", "scale": {"domain": [75, 175], "nice": false, "zero": false}, "axis": {"orient": "left", "values": [75, 100, 125, 150, 175], "title": "Total fluid intake (g/kg/24 hrs)", "titleFontSize": 19, "titlePadding": 4, "labelPadding": 1}}}},
        {"transform": [{"filter": "datum.panel == 'i' && datum.genotype != '(+/+)'"}],
         "mark": {"type": "line", "color": "black", "strokeWidth": 1.8},
         "encoding": {"x": {"field": "conc", "type": "quantitative", "scale": {"domain": [0, 16], "nice": false, "zero": false}, "axis": null},
                      "y": {"field": "mean", "type": "quantitative", "scale": {"domain": [75, 175], "nice": false, "zero": false}, "axis": null}}},
        {"transform": [{"filter": "datum.panel == 'i'"}],
         "mark": {"type": "point", "shape": "circle", "size": 95, "filled": true, "stroke": "black", "strokeWidth": 1.5, "opacity": 1},
         "encoding": {"x": {"field": "conc", "type": "quantitative", "scale": {"domain": [0, 16], "nice": false, "zero": false}, "axis": {"orient": "bottom", "values": [0,1,2,3,4,5,6,7,8,9,10,11,12,13,14,15,16], "labels": false, "domain": false, "title": null, "tickSize": 3}},
                      "y": {"field": "mean", "type": "quantitative", "scale": {"domain": [75, 175], "nice": false, "zero": false}, "axis": {"orient": "left", "values": [75,80,85,90,95,100,105,110,115,120,125,130,135,140,145,150,155,160,165,170,175], "labels": false, "domain": false, "title": null, "tickSize": 3}},
                      "fill": {"field": "genotype", "type": "nominal", "scale": {"domain": ["(+/+)", "Gad2 (129N2) (-/-)"], "range": ["white", "black"]}, "legend": null}}},
        {"transform": [{"filter": "datum.panel == 'i' && datum.sig != null"}],
         "mark": {"type": "text", "font": "Liberation Sans", "fontSize": 32, "fontWeight": "bold", "baseline": "alphabetic", "dy": 5.5, "color": "black"},
         "encoding": {"x": {"field": "conc", "type": "quantitative", "scale": {"domain": [0, 16], "nice": false, "zero": false}, "axis": null},
                      "y": {"field": "hi", "type": "quantitative", "scale": {"domain": [75, 175], "nice": false, "zero": false}, "axis": null},
                      "text": {"field": "sig"}}},
        {"data": {"name": "letters"}, "transform": [{"filter": "datum.panel == 'i'"}],
         "mark": {"type": "text", "font": "Liberation Sans", "fontSize": 30, "align": "left", "baseline": "alphabetic", "color": "black"},
         "encoding": {"x": {"datum": 1.15, "type": "quantitative", "scale": {"domain": [0, 16], "nice": false, "zero": false}, "axis": null},
                      "y": {"datum": 160, "type": "quantitative", "scale": {"domain": [75, 175], "nice": false, "zero": false}, "axis": null},
                      "text": {"field": "letter"}}}
      ],
      "resolve": {"axis": {"x": "independent", "y": "independent"}}
    }
  ]
}
